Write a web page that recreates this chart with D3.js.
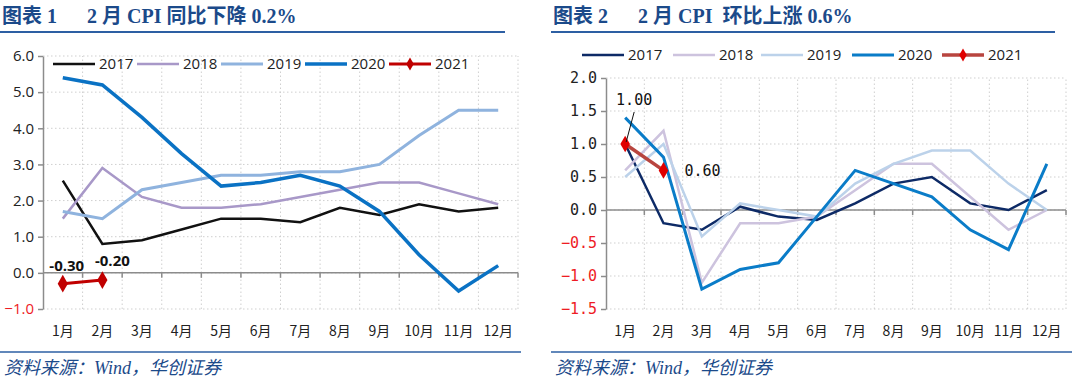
<!DOCTYPE html>
<html>
<head>
<meta charset="utf-8">
<script src="https://cdn.jsdelivr.net/npm/d3@7"></script>
<style>
  body { margin: 0; background: #fff; }
  svg text { font-family: "Noto Sans CJK SC", sans-serif; }
</style>
</head>
<body>
<svg id="chart" width="1080" height="380"></svg>
<script>
const months = ["1月", "2月", "3月", "4月", "5月", "6月", "7月", "8月", "9月", "10月", "11月", "12月"];
const years = ["2017", "2018", "2019", "2020", "2021"];

// 同比
const yoy2017 = [2.55, 0.8, 0.9, 1.2, 1.5, 1.5, 1.4, 1.8, 1.6, 1.9, 1.7, 1.8];
const yoy2018 = [1.5, 2.9, 2.1, 1.8, 1.8, 1.9, 2.1, 2.3, 2.5, 2.5, 2.2, 1.9];
const yoy2019 = [1.7, 1.5, 2.3, 2.5, 2.7, 2.7, 2.8, 2.8, 3.0, 3.8, 4.5, 4.5];
const yoy2020 = [5.4, 5.2, 4.3, 3.3, 2.4, 2.5, 2.7, 2.4, 1.7, 0.5, -0.5, 0.2];
const yoy2021 = [-0.3, -0.2];
const yoyTicks = [-1, 0, 1, 2, 3, 4, 5, 6];

// 环比
const mom2017 = [1.0, -0.2, -0.3, 0.05, -0.1, -0.15, 0.1, 0.4, 0.5, 0.1, 0.0, 0.3];
const mom2018 = [0.6, 1.2, -1.1, -0.2, -0.2, -0.1, 0.3, 0.7, 0.7, 0.2, -0.3, 0.0];
const mom2019 = [0.5, 1.0, -0.4, 0.1, 0.0, -0.1, 0.4, 0.7, 0.9, 0.9, 0.4, 0.0];
const mom2020 = [1.4, 0.8, -1.2, -0.9, -0.8, -0.1, 0.6, 0.4, 0.2, -0.3, -0.6, 0.7];
const mom2021 = [1.0, 0.6];
const momTicks = [-1.5, -1.0, -0.5, 0.0, 0.5, 1.0, 1.5, 2.0];

const svg = d3.select("#chart");
const titleColor = "#1b4a8a";

function header(x0, x1, title) {
  svg.append("text")
    .attr("x", x0 + 2).attr("y", 23)
    .style("font-family", "'Liberation Serif', 'Noto Sans CJK SC', serif")
    .style("font-weight", "bold")
    .style("font-size", "20px")
    .attr("fill", titleColor)
    .attr("xml:space", "preserve")
    .text(title);
  svg.append("line")
    .attr("x1", x0).attr("x2", x1).attr("y1", 32).attr("y2", 32)
    .attr("stroke", "#2d5fa3").attr("stroke-width", 2);
}

function footer(x0, x1) {
  svg.append("line")
    .attr("x1", x0).attr("x2", x1).attr("y1", 352).attr("y2", 352)
    .attr("stroke", "#2d5fa3").attr("stroke-width", 1.5);
  svg.append("text")
    .attr("x", x0 + 4).attr("y", 374)
    .style("font-style", "italic")
    .style("font-family", "'Liberation Serif', 'Noto Sans CJK SC', serif")
    .style("font-size", "18px")
    .attr("fill", titleColor)
    .text("资料来源：Wind，华创证券");
}

function drawChart(cfg) {
  const g = svg.append("g");
  const x = d3.scaleBand().domain(months).range([cfg.left, cfg.right]);
  const y = d3.scaleLinear().domain(cfg.yDomain).range([cfg.bottom, cfg.top]);
  const cx = m => x(m) + x.bandwidth() / 2;

  // grid
  const grid = g.append("g").attr("stroke", "#cfcfcf").attr("stroke-dasharray", "1.5,2.5").attr("stroke-width", 1);
  cfg.ticks.forEach(t => {
    grid.append("line").attr("x1", cfg.left).attr("x2", cfg.right).attr("y1", y(t)).attr("y2", y(t));
  });
  d3.range(1, months.length + 1).forEach(i => {
    const xx = cfg.left + x.step() * i;
    grid.append("line").attr("x1", xx).attr("x2", xx).attr("y1", y(cfg.yDomain[0])).attr("y2", y(cfg.yDomain[1]));
  });

  // y axis
  const yAxis = g.append("g")
    .attr("transform", `translate(${cfg.left},0)`)
    .call(d3.axisLeft(y).tickValues(cfg.ticks).tickSize(5).tickSizeOuter(0).tickFormat(cfg.fmt));
  yAxis.select(".domain").attr("stroke", "#8c8c8c").attr("stroke-width", 1.5);
  yAxis.selectAll(".tick line").attr("stroke", "#8c8c8c").attr("stroke-width", 1.5);
  yAxis.selectAll(".tick text")
    .style("font-family", cfg.yFont)
    .style("font-size", "15px")
    .attr("dx", -1)
    .attr("fill", d => d < 0 ? "#ee1c25" : "#222");

  // x axis at zero
  g.append("line")
    .attr("x1", cfg.left).attr("x2", cfg.right).attr("y1", y(0)).attr("y2", y(0))
    .attr("stroke", "#8c8c8c").attr("stroke-width", 1.5);
  d3.range(1, months.length + 1).forEach(i => {
    const xx = cfg.left + x.step() * i;
    g.append("line").attr("x1", xx).attr("x2", xx).attr("y1", y(0)).attr("y2", y(0) + 5)
      .attr("stroke", "#8c8c8c").attr("stroke-width", 1.5);
  });
  g.selectAll(".mlabel").data(months).join("text")
    .attr("x", d => cx(d)).attr("y", cfg.labelY)
    .attr("text-anchor", "middle")
    .style("font-size", "14px")
    .attr("fill", "#222")
    .text(d => d);

  // lines
  const line = d3.line().x((d, i) => cx(months[i])).y(d => y(d));
  cfg.series.forEach(s => {
    g.append("path").datum(s.values)
      .attr("d", line)
      .attr("fill", "none")
      .attr("stroke", s.color)
      .attr("stroke-width", s.width)
      .attr("stroke-linejoin", "miter");
    if (s.marker) {
      g.selectAll(null).data(s.values).join("path")
        .attr("transform", (d, i) => `translate(${cx(months[i])},${y(d)})`)
        .attr("d", d3.symbol(d3.symbolDiamond, cfg.markerSize))
        .attr("fill", s.marker);
    }
  });

  // legend
  const lg = g.append("g");
  cfg.series.forEach((s, i) => {
    const lx = cfg.legendX[i];
    lg.append("line")
      .attr("x1", lx).attr("x2", lx + 42).attr("y1", cfg.legendY).attr("y2", cfg.legendY)
      .attr("stroke", s.color).attr("stroke-width", s.width);
    if (s.marker) {
      lg.append("path")
        .attr("transform", `translate(${lx + 21},${cfg.legendY})`)
        .attr("d", d3.symbol(d3.symbolDiamond, 50))
        .attr("fill", s.marker);
    }
    lg.append("text")
      .attr("x", lx + 46).attr("y", cfg.legendY + 5)
      .style("font-family", "'Open Sans', sans-serif")
      .style("font-size", "15px")
      .attr("fill", "#222")
      .text(years[i]);
  });

  return { x, y, cx, g };
}

// left chart
header(0, 505, "图表 1　  2 月 CPI 同比下降 0.2%");
const left = drawChart({
  left: 43, right: 518, top: 56, bottom: 309,
  yDomain: [-1, 6], ticks: yoyTicks, fmt: d3.format(".1f"),
  yFont: "'Open Sans', sans-serif",
  labelY: 336, markerSize: 90,
  legendY: 64, legendX: [53, 137, 221, 305, 389],
  series: [
    { values: yoy2017, color: "#111111", width: 2.5 },
    { values: yoy2018, color: "#a898c8", width: 2.5 },
    { values: yoy2019, color: "#8fb3de", width: 3 },
    { values: yoy2020, color: "#0a72c4", width: 3.5 },
    { values: yoy2021, color: "#c00000", width: 3, marker: "#c00000" }
  ]
});
const yoyLabelDx = [4, 10];
yoy2021.forEach((v, i) => {
  left.g.append("text")
    .attr("x", left.cx(months[i]) + yoyLabelDx[i]).attr("y", left.y(v) - 13 - i)
    .attr("text-anchor", "middle")
    .style("font-family", "'Open Sans', sans-serif")
    .style("font-weight", "bold")
    .style("font-size", "15px")
    .attr("fill", "#111")
    .text(v.toFixed(2));
});
footer(0, 521);

// right chart
header(551, 1055, "图表 2　  2 月 CPI  环比上涨 0.6%");
const right = drawChart({
  left: 606, right: 1066, top: 78, bottom: 309,
  yDomain: [-1.5, 2], ticks: momTicks, fmt: d3.format(".1f"),
  yFont: "'DejaVu Sans Mono', monospace",
  labelY: 336, markerSize: 80,
  legendY: 55, legendX: [582, 673, 761, 852, 942],
  series: [
    { values: mom2017, color: "#0d2a66", width: 2.5 },
    { values: mom2018, color: "#cdc3de", width: 2.5 },
    { values: mom2019, color: "#bcd2ea", width: 2.5 },
    { values: mom2020, color: "#0a7cc8", width: 3 },
    { values: mom2021, color: "#b8453f", width: 3.5, marker: "#e00000" }
  ]
});
// labels for 2021
const p1x = right.cx(months[0]), p1y = right.y(mom2021[0]);
right.g.append("line")
  .attr("x1", p1x + 1).attr("y1", p1y - 2).attr("x2", p1x + 9).attr("y2", p1y - 32)
  .attr("stroke", "#111").attr("stroke-width", 1);
right.g.append("text")
  .attr("x", p1x + 9).attr("y", p1y - 39)
  .attr("text-anchor", "middle")
  .style("font-family", "'DejaVu Sans Mono', monospace")
  .style("font-size", "15px")
  .attr("fill", "#111")
  .text(mom2021[0].toFixed(2));
right.g.append("text")
  .attr("x", right.cx(months[1]) + 21).attr("y", right.y(mom2021[1]) + 6)
  .style("font-family", "'DejaVu Sans Mono', monospace")
  .style("font-size", "15px")
  .attr("fill", "#111")
  .text(mom2021[1].toFixed(2));
footer(551, 1072);
</script>
</body>
</html>
